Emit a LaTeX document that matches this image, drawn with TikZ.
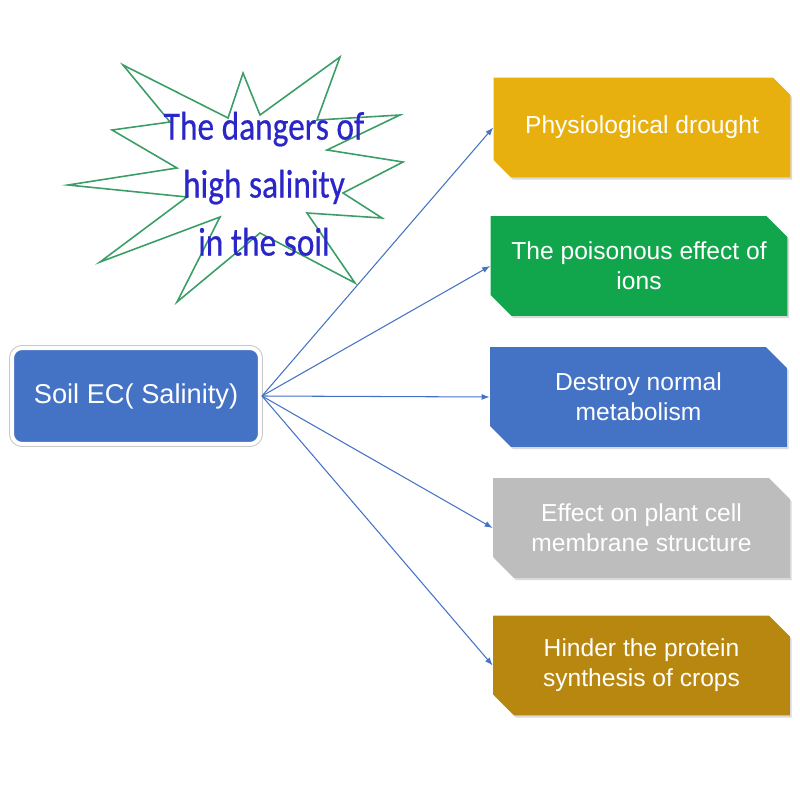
\documentclass[tikz,border=0pt]{standalone}
\usepackage{fontspec}
\setmainfont{Liberation Sans}
\newfontfamily\estrelafont[RawFeature={embolden=0.6}]{Carlito}
\usepackage{xcolor}
\usetikzlibrary{arrows.meta,positioning,shapes.misc,shadows}
\definecolor{azulsolo}{HTML}{4472C4}
\definecolor{amareloseca}{HTML}{E8B00E}
\definecolor{verdeion}{HTML}{12A64C}
\definecolor{cinzamembrana}{HTML}{BDBDBD}
\definecolor{ocreproteina}{HTML}{B8870F}
\definecolor{verdeestrela}{HTML}{3A9E66}
\definecolor{azultexto}{HTML}{2A26C8}

\begin{document}
\begin{tikzpicture}[x=0.02cm, y=-0.02cm,
    every node/.style={font=\fontsize{14}{17}\selectfont, text=white, align=center},
    caixa/.style={chamfered rectangle, chamfered rectangle corners={north east,south west},
      chamfered rectangle xsep=0.3cm, minimum width=5.94cm, minimum height=2cm, inner sep=0pt,
      drop shadow={shadow xshift=1pt, shadow yshift=-1.2pt, opacity=0.3}},
    seta/.style={-{Latex[length=0.16cm,width=0.12cm]}, azulsolo, line width=0.6pt}]
    \useasboundingbox (0,0) rectangle (800,800);
    % star with the title
    \draw[verdeestrela, line width=0.9pt, fill=white] (123,65) -- (228,118) -- (243,73) -- (260,115)
      -- (340,57) -- (317,120) -- (400,115) -- (327,150) -- (403,162) -- (343,193) -- (382,218)
      -- (307,213) -- (355,283) -- (260,233) -- (177,302) -- (220,217) -- (100,262) -- (187,197)
      -- (68,185) -- (177,168) -- (112,130) -- (170,122) -- cycle;
    \node[text=azultexto, font=\estrelafont\fontsize{19}{27.5}\selectfont] (perigos) at (264,186)
      {\scalebox{1}[1.2]{\begin{tabular}{@{}c@{}}The dangers of\\high salinity\\in the soil\end{tabular}}};
    % source
    \node[fill=azulsolo, draw=white, line width=0.08cm, rounded corners=0.2cm,
      preaction={draw=black!22, line width=0.12cm},
      minimum width=4.96cm, minimum height=1.92cm, font=\fontsize{15.5}{18}\selectfont] (solo) at (136,396) {Soil EC( Salinity)};
    % effects
    \node[caixa, fill=amareloseca] (seca) at (642,127.5) {Physiological drought};
    \node[caixa, fill=verdeion] (ions) at (639,266) {The poisonous effect of\\ions};
    \node[caixa, fill=azulsolo] (metab) at (638.5,397) {Destroy normal\\metabolism};
    \node[caixa, fill=cinzamembrana] (membrana) at (641.5,528) {Effect on plant cell\\membrane structure};
    \node[caixa, fill=ocreproteina] (proteina) at (641.5,665.5) {Hinder the protein\\synthesis of crops};
    \draw[seta] (solo.east) -- (seca.west);
    \draw[seta] (solo.east) -- (ions.west);
    \draw[seta] (solo.east) -- (metab.west);
    \draw[seta] (solo.east) -- (membrana.west);
    \draw[seta] (solo.east) -- (proteina.west);
\end{tikzpicture}
\end{document}
